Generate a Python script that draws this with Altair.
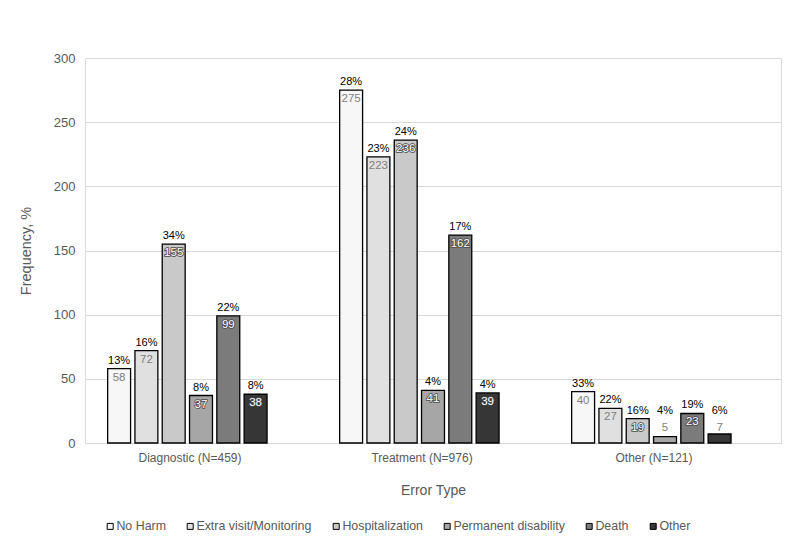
import altair as alt
import pandas as pd

groups = ["Diagnostic (N=459)", "Treatment (N=976)", "Other (N=121)"]
severity = ["No Harm", "Extra visit/Monitoring", "Hospitalization",
            "Permanent disability", "Death", "Other"]
counts = {
    "Diagnostic (N=459)": [58, 72, 155, 37, 99, 38],
    "Treatment (N=976)": [275, 223, 236, 41, 162, 39],
    "Other (N=121)": [40, 27, 19, 5, 23, 7],
}
percents = {
    "Diagnostic (N=459)": [13, 16, 34, 8, 22, 8],
    "Treatment (N=976)": [28, 23, 24, 4, 17, 4],
    "Other (N=121)": [33, 22, 16, 4, 19, 6],
}
fills = ["#f7f7f7", "#e0e0e0", "#c9c9c9", "#a6a6a6", "#7b7b7b", "#363636"]
y_ticks = [0, 50, 100, 150, 200, 250, 300]
offset_slots = severity + ["(empty)"]
light_series = ["No Harm", "Extra visit/Monitoring"]

rows = []
for g in groups:
    for s, c, p in zip(severity, counts[g], percents[g]):
        rows.append({"group": g, "severity": s, "count": c, "pct": f"{p}%",
                     "plain": (s in light_series) or c < 10})
df = pd.DataFrame(rows)

FONT = "Liberation Sans"
GRAY = "#595959"

x_enc = alt.X("group:N", sort=groups,
              scale=alt.Scale(paddingInner=0, paddingOuter=0),
              axis=alt.Axis(title="Error Type", labelAngle=0, ticks=False,
                            domain=True, domainColor="#d9d9d9",
                            labelPadding=9, labelFontSize=12, labelColor=GRAY,
                            labelOffset=-11,
                            titleFontSize=14, titleColor=GRAY, titlePadding=20,
                            titleFontWeight="normal"))
xo_enc = alt.XOffset("severity:N",
                     scale=alt.Scale(domain=offset_slots, paddingInner=0.16,
                                     paddingOuter=0.83))

base = alt.Chart(df).encode(x=x_enc, xOffset=xo_enc)

bars = base.mark_bar(stroke="black", strokeWidth=1.3).encode(
    y=alt.Y("count:Q", scale=alt.Scale(domain=[0, 300], nice=False),
            axis=alt.Axis(title="Frequency, %", values=y_ticks, ticks=False,
                          domain=False, grid=True, gridColor="#d9d9d9",
                          labelPadding=10, labelFontSize=13, labelColor=GRAY,
                          titleFontSize=14.5, titleColor=GRAY, titlePadding=20,
                          titleFontWeight="normal")),
    color=alt.Color("severity:N", sort=severity,
                    scale=alt.Scale(domain=severity, range=fills),
                    legend=alt.Legend(title=None, orient="none", direction="horizontal",
                                      legendX=19, legendY=462, columns=6,
                                      columnPadding=18, labelOffset=0, padding=0,
                                      symbolType="square", symbolSize=36,
                                      symbolStrokeColor="black", symbolStrokeWidth=1,
                                      labelFontSize=12.4, labelColor=GRAY, labelFont=FONT)),
)

lab = base.transform_calculate(ly="max(datum.count, 19)")

plain_text = lab.transform_filter("datum.plain").mark_text(
    baseline="top", dy=3, fontSize=11.5, font=FONT, color="#7f7f7f").encode(
    y=alt.Y("ly:Q"), text="count:Q")

halo_text = lab.transform_filter("!datum.plain").mark_text(
    baseline="top", dy=3, fontSize=11.5, font=FONT,
    fill="#4a4a4a", stroke="#4a4a4a", strokeWidth=1.6).encode(
    y=alt.Y("ly:Q"), text="count:Q")

white_text = lab.transform_filter("!datum.plain").mark_text(
    baseline="top", dy=3, fontSize=11.5, font=FONT, color="white").encode(
    y=alt.Y("ly:Q"), text="count:Q")

pct_text = lab.mark_text(baseline="bottom", dy=-3, fontSize=11, font=FONT,
                         color="black").encode(
    y=alt.Y("ly:Q"), text="pct:N")

chart = alt.layer(bars, plain_text, halo_text, white_text, pct_text).properties(
    width=696, height=385,
    autosize=alt.AutoSizeParams(type="none"),
    padding={"left": 77, "top": 50, "right": 11, "bottom": 94},
).configure_view(stroke=None).configure(font=FONT)

chart.save("out.html", embed_options={"renderer": "svg", "actions": False})
